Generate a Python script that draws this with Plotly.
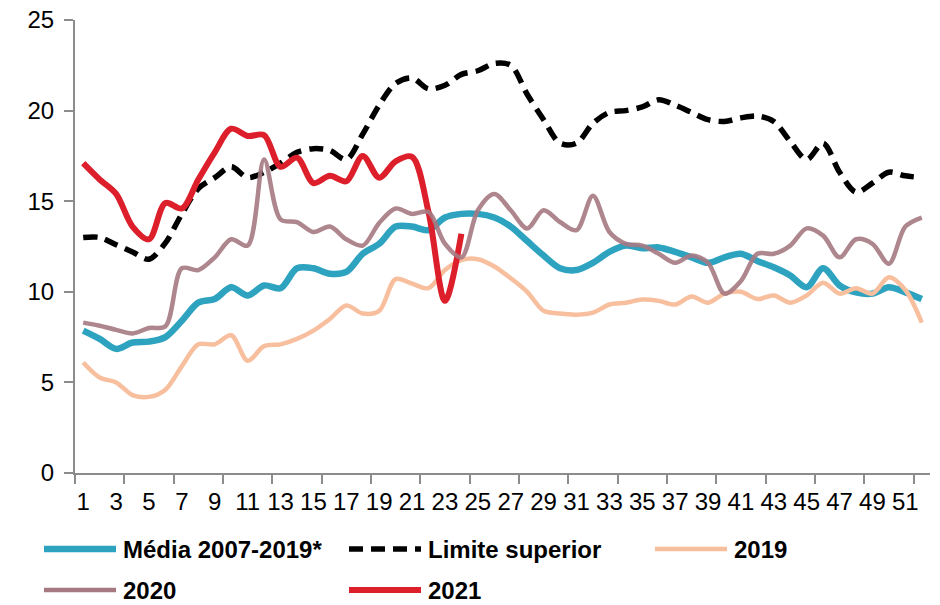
import plotly.graph_objects as go

weeks = list(range(1, 53))
x_tick_labels = [str(w) for w in range(1, 53, 2)]

media_2007_2019 = [7.86, 7.4, 6.85, 7.2, 7.25, 7.5, 8.4, 9.4, 9.6, 10.25, 9.8, 10.35, 10.2, 11.3, 11.3, 11.0,
                   11.1, 12.1, 12.65, 13.6, 13.6, 13.4, 14.1, 14.3, 14.3, 14.1, 13.6, 12.8, 12.0, 11.3, 11.2,
                   11.6, 12.2, 12.55, 12.4, 12.45, 12.2, 11.9, 11.6, 11.9, 12.1, 11.7, 11.35, 10.9, 10.25, 11.3,
                   10.35, 9.97, 9.9, 10.25, 9.97, 9.6]
limite_superior = [13.0, 13.0, 12.6, 12.2, 11.8, 12.7, 14.3, 15.7, 16.3, 16.9, 16.3, 16.6, 17.1, 17.7, 17.9, 17.8,
                   17.3, 18.7, 20.3, 21.5, 21.8, 21.2, 21.4, 22.0, 22.2, 22.6, 22.5, 20.9, 19.5, 18.2, 18.2,
                   19.3, 19.9, 20.0, 20.2, 20.6, 20.3, 19.9, 19.5, 19.4, 19.6, 19.7, 19.4, 18.3, 17.3, 18.2,
                   16.6, 15.5, 16.0, 16.6, 16.4, 16.3]
y2019 = [6.1, 5.27, 5.0, 4.3, 4.2, 4.6, 5.9, 7.1, 7.1, 7.6, 6.2, 7.0, 7.1, 7.4, 7.86, 8.5, 9.25, 8.8, 8.95,
         10.7, 10.45, 10.2, 11.2, 11.75, 11.8, 11.4, 10.75, 10.0, 8.95, 8.8, 8.74, 8.85, 9.3, 9.4, 9.57, 9.5,
         9.3, 9.74, 9.4, 9.9, 10.0, 9.6, 9.8, 9.4, 9.8, 10.5, 9.9, 10.2, 9.9, 10.8, 10.1, 8.3]
y2020 = [8.3, 8.13, 7.9, 7.7, 8.0, 8.1, 11.3, 11.2, 11.9, 12.9, 12.55, 17.3, 14.0, 13.85, 13.3, 13.6, 12.9,
         12.55, 13.8, 14.6, 14.3, 14.4, 12.65, 11.9, 14.5, 15.4, 14.5, 13.5, 14.5, 13.85, 13.4, 15.3, 13.3,
         12.65, 12.55, 12.1, 11.6, 12.0, 11.6, 9.9, 10.6, 12.1, 12.1, 12.55, 13.5, 13.1, 11.9, 12.9, 12.65,
         11.55, 13.6, 14.1]
y2021 = [17.1, 16.2, 15.4, 13.6, 12.9, 14.9, 14.6, 16.2, 17.7, 19.0, 18.6, 18.65, 16.9, 17.4, 16.0, 16.4,
         16.1, 17.5, 16.3, 17.2, 17.45, 14.4, 9.5, 13.2]

series_names = ["Média 2007-2019*", "Limite superior", "2019", "2020", "2021"]
colors = {"Média 2007-2019*": "#2DA3C0", "Limite superior": "#000000", "2019": "#F8BF9F",
          "2020": "#A67982", "2021": "#DC1F2B"}

FONT = "Liberation Sans, Arial, sans-serif"
# the page body margin is removed (post_script), so the figure fills the window from (0, 0)
W, H = 940, 605
PLOT_L, PLOT_R, PLOT_T, PLOT_B = 75, 930, 20, 473   # window pixels
L, T, R, B = PLOT_L, PLOT_T, W - PLOT_R, H - PLOT_B
PW, PH = PLOT_R - PLOT_L, PLOT_B - PLOT_T

fig = go.Figure()

def add(name, yvals, width, dash="solid", opacity=1.0):
    fig.add_trace(go.Scatter(
        x=weeks[:len(yvals)], y=yvals, mode="lines", name=name,
        line=dict(color=colors[name], width=width, dash=dash, shape="spline", smoothing=0.9),
        opacity=opacity, showlegend=False, hoverinfo="x+y+name"))

add("Média 2007-2019*", media_2007_2019, 6.5)
add("Limite superior", limite_superior, 5.5, dash="14px,8px")
add("2019", y2019, 4.5)
add("2021", y2021, 6)
add("2020", y2020, 4.5, opacity=0.9)

# manual legend (window pixel positions converted to paper coordinates)
def px(xp):
    return (xp - PLOT_L) / PW

def py(yp):
    return (PLOT_B - yp) / PH

legend_items = [
    ("Média 2007-2019*", 44, 116, 549, 6.5, "solid"),
    ("Limite superior", 349, 421, 549, 5.5, "14px,8px"),
    ("2019", 655, 727, 549, 4.5, "solid"),
    ("2020", 44, 116, 590, 4.5, "solid"),
    ("2021", 349, 421, 590, 6, "solid"),
]
for name, x0, x1, yy, lw, dash in legend_items:
    fig.add_shape(type="line", xref="paper", yref="paper",
                  x0=px(x0), x1=px(x1), y0=py(yy), y1=py(yy),
                  line=dict(color=colors[name], width=lw, dash=dash))
    fig.add_annotation(xref="paper", yref="paper", x=px(x1 + 5), y=py(yy),
                       text=f"<b>{name}</b>", showarrow=False, xanchor="left", yanchor="middle",
                       font=dict(family=FONT, size=24, color="#000000"))

axis_gray = "#8C8C8C"
fig.update_layout(
    width=W, height=H,
    margin=dict(l=L, r=R, t=T, b=B, autoexpand=False),
    paper_bgcolor="white", plot_bgcolor="white",
    font=dict(family=FONT, size=24, color="#000000"),
    xaxis=dict(
        range=[0.5, 52.5], showgrid=False, zeroline=False,
        showline=True, linecolor=axis_gray, linewidth=2,
        tickmode="array", tickvals=list(range(1, 53, 2)), ticktext=x_tick_labels,
        ticks="outside", ticklen=0, tickcolor="rgba(0,0,0,0)",
        tickfont=dict(family=FONT, size=24, color="#000000"),
        ticklabelstandoff=6, ticklabeloverflow="allow",
        minor=dict(tickmode="array", tickvals=[0.5 + 3 * k for k in range(18)],
                   ticks="outside", ticklen=9, tickwidth=2, tickcolor=axis_gray, showgrid=False),
    ),
    yaxis=dict(
        range=[0, 25], showgrid=False, zeroline=False,
        showline=True, linecolor=axis_gray, linewidth=2,
        tickmode="array", tickvals=[0, 5, 10, 15, 20, 25],
        ticks="outside", ticklen=9, tickwidth=2, tickcolor=axis_gray,
        tickfont=dict(family=FONT, size=24, color="#000000"),
        ticklabelstandoff=5, ticklabeloverflow="allow",
    ),
)

fig.write_html("out.html", config={"displayModeBar": False},
               post_script="document.body.style.margin='0';document.body.style.overflow='hidden';")
